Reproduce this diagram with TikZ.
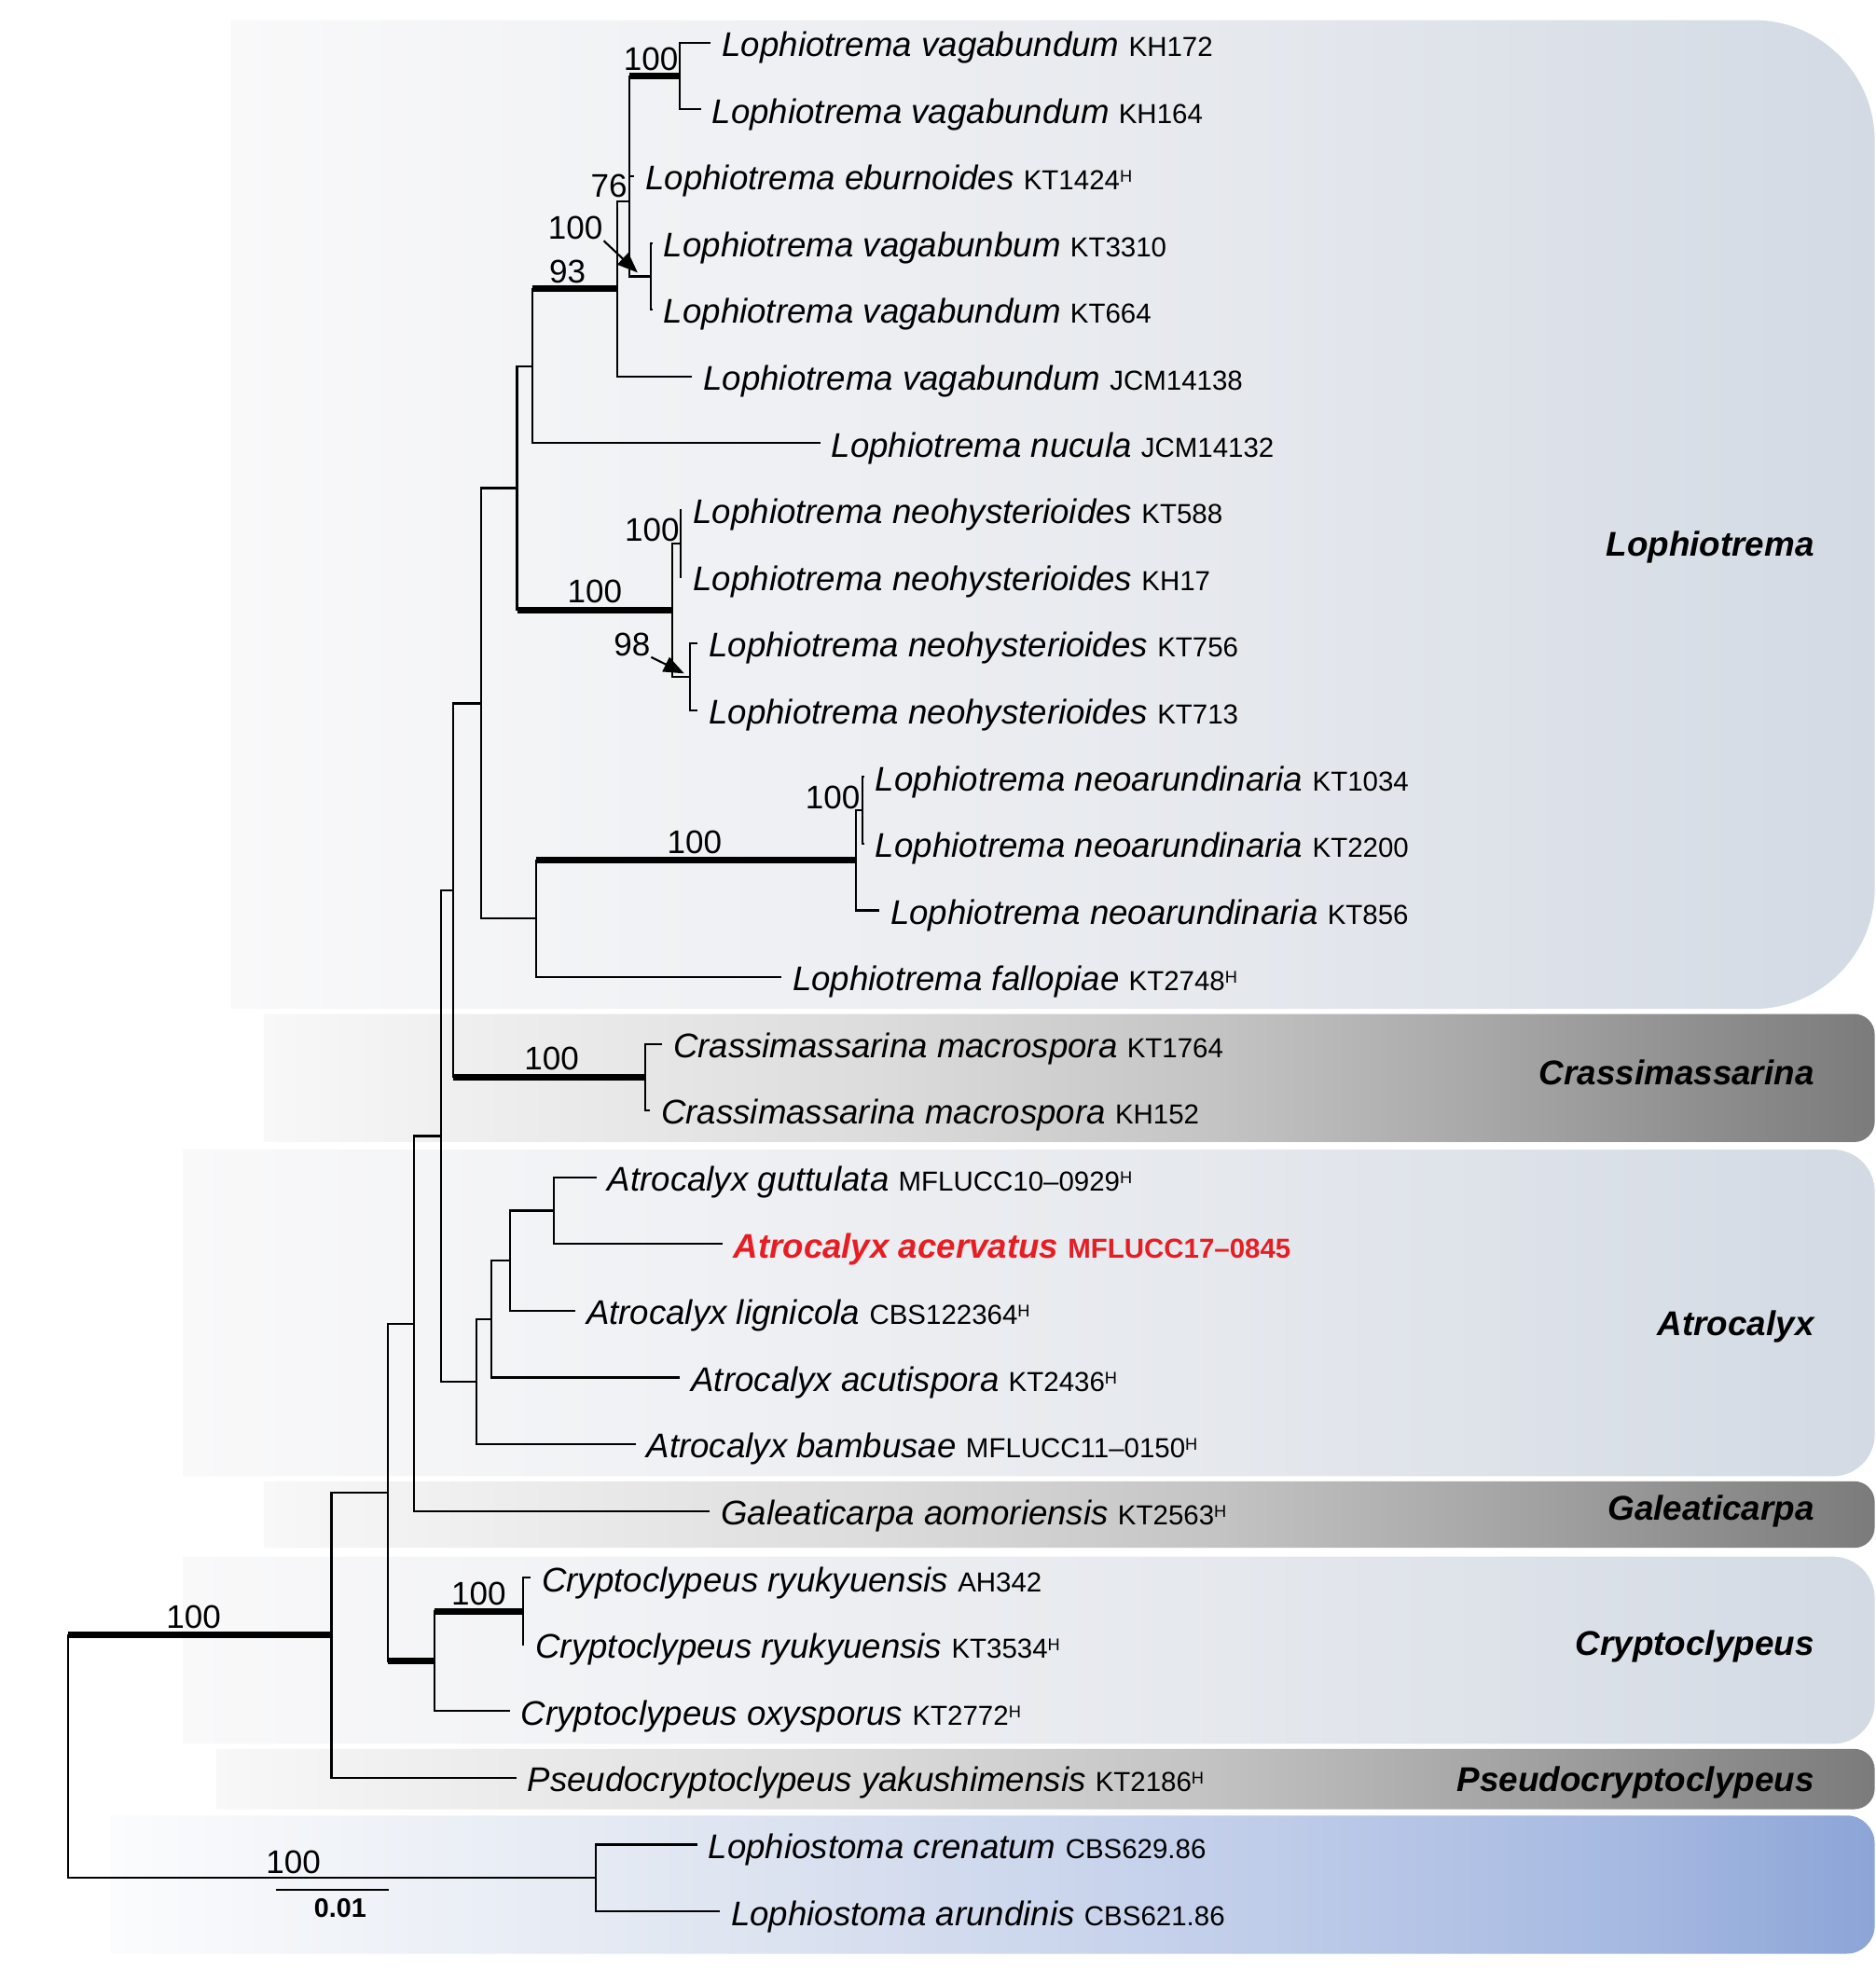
\documentclass[tikz,border=0pt]{standalone}
\usepackage{fontspec}
\setmainfont{Liberation Sans}
\usetikzlibrary{arrows.meta}

\definecolor{newsp}{RGB}{230,30,36}
\definecolor{pbA}{HTML}{F9F9FA}
\definecolor{pbB}{HTML}{E5E8ED}
\definecolor{pbC}{HTML}{D3DAE4}
\definecolor{gyA}{HTML}{F8F8F8}
\definecolor{gyB}{HTML}{DCDCDC}
\definecolor{gyC}{HTML}{C4C4C4}
\definecolor{gyD}{HTML}{A0A0A0}
\definecolor{gyE}{HTML}{7B7B7B}
\definecolor{blA}{HTML}{FBFCFD}
\definecolor{blB}{HTML}{E0E6F1}
\definecolor{blC}{HTML}{C0CDEA}
\definecolor{blD}{HTML}{A6B9E1}
\definecolor{blE}{HTML}{8CA5D7}

\pgfdeclarehorizontalshading{paleblue}{100bp}{color(0bp)=(pbA); color(25bp)=(pbA); color(56bp)=(pbB); color(75bp)=(pbC); color(100bp)=(pbC)}
\pgfdeclarehorizontalshading{greyband}{100bp}{color(0bp)=(gyA); color(25bp)=(gyA); color(44bp)=(gyB); color(54.5bp)=(gyC); color(65bp)=(gyD); color(75bp)=(gyE); color(100bp)=(gyE)}
\pgfdeclarehorizontalshading{blueband}{100bp}{color(0bp)=(blA); color(25bp)=(blA); color(41.8bp)=(blB); color(57.5bp)=(blC); color(68bp)=(blD); color(75bp)=(blE); color(100bp)=(blE)}

\newcommand{\strain}[1]{{\fontsize{8.4}{10}\selectfont\upshape #1}}
\newcommand{\holo}{\raisebox{2.3pt}{\fontsize{5.2}{6}\selectfont H}}

\begin{document}
\begin{tikzpicture}[x=0.0135cm, y=-0.0135cm, line width=0.6pt, line cap=rect,
  taxon/.style={anchor=west, inner xsep=0.1215cm, inner ysep=0pt, text height=10.84pt, text depth=2.4pt, font=\fontsize{10.45}{12}\selectfont\itshape},
  clade/.style={anchor=base east, inner sep=0pt, font=\fontsize{10.5}{12}\selectfont\bfseries\itshape},
  boot/.style={anchor=base, inner sep=0pt, font=\fontsize{10}{12}\selectfont},
  bar/.style={line width=2pt, line cap=butt}]
\useasboundingbox (0,0) rectangle (1493,1568);
\fill[white] (0,0) rectangle (1493,1568);

\shade[shading=paleblue] (184,16) [rounded corners=1.3cm] -- (1492,16) -- (1492,803) [sharp corners] -- (184,803) -- cycle;
\shade[shading=greyband] (210,807) [rounded corners=0.22cm] -- (1492,807) -- (1492,909) [sharp corners] -- (210,909) -- cycle;
\shade[shading=paleblue] (146,915) [rounded corners=0.45cm] -- (1492,915) -- (1492,1175) [sharp corners] -- (146,1175) -- cycle;
\shade[shading=greyband] (210,1179) [rounded corners=0.22cm] -- (1492,1179) -- (1492,1232) [sharp corners] -- (210,1232) -- cycle;
\shade[shading=paleblue] (146,1239) [rounded corners=0.45cm] -- (1492,1239) -- (1492,1388) [sharp corners] -- (146,1388) -- cycle;
\shade[shading=greyband] (172,1392) [rounded corners=0.22cm] -- (1492,1392) -- (1492,1440) [sharp corners] -- (172,1440) -- cycle;
\shade[shading=blueband] (88,1445) [rounded corners=0.3cm] -- (1492,1445) -- (1492,1555) [sharp corners] -- (88,1555) -- cycle;

\node[taxon] (t0) at (565,34) {Lophiotrema vagabundum \strain{KH172}};
\node[taxon] (t1) at (557,87.1) {Lophiotrema vagabundum \strain{KH164}};
\node[taxon] (t2) at (504,140.2) {Lophiotrema eburnoides \strain{KT1424\holo}};
\node[taxon] (t3) at (518.5,193.4) {Lophiotrema vagabunbum \strain{KT3310}};
\node[taxon] (t4) at (518.5,246.5) {Lophiotrema vagabundum \strain{KT664}};
\node[taxon] (t5) at (550,299.6) {Lophiotrema vagabundum \strain{JCM14138}};
\node[taxon] (t6) at (652,352.7) {Lophiotrema nucula \strain{JCM14132}};
\node[taxon] (t7) at (542,405.8) {Lophiotrema neohysterioides \strain{KT588}};
\node[taxon] (t8) at (542,459.0) {Lophiotrema neohysterioides \strain{KH17}};
\node[taxon] (t9) at (554.5,512.1) {Lophiotrema neohysterioides \strain{KT756}};
\node[taxon] (t10) at (554.5,565.2) {Lophiotrema neohysterioides \strain{KT713}};
\node[taxon] (t11) at (687,618.3) {Lophiotrema neoarundinaria \strain{KT1034}};
\node[taxon] (t12) at (687,671.4) {Lophiotrema neoarundinaria \strain{KT2200}};
\node[taxon] (t13) at (699,724.6) {Lophiotrema neoarundinaria \strain{KT856}};
\node[taxon] (t14) at (621,777.7) {Lophiotrema fallopiae \strain{KT2748\holo}};
\node[taxon] (t15) at (526,830.8) {Crassimassarina macrospora \strain{KT1764}};
\node[taxon] (t16) at (516.5,883.9) {Crassimassarina macrospora \strain{KH152}};
\node[taxon] (t17) at (474,937.0) {Atrocalyx guttulata \strain{MFLUCC10–0929\holo}};
\node[taxon, text=newsp, font=\fontsize{10.45}{12}\selectfont\bfseries\itshape] (t18) at (574,990.2) {Atrocalyx acervatus \strain{MFLUCC17–0845}};
\node[taxon] (t19) at (457,1043.3) {Atrocalyx lignicola \strain{CBS122364\holo}};
\node[taxon] (t20) at (540.5,1096.4) {Atrocalyx acutispora \strain{KT2436\holo}};
\node[taxon] (t21) at (505,1149.5) {Atrocalyx bambusae \strain{MFLUCC11–0150\holo}};
\node[taxon] (t22) at (564,1202.6) {Galeaticarpa aomoriensis \strain{KT2563\holo}};
\node[taxon] (t23) at (421.5,1255.8) {Cryptoclypeus ryukyuensis \strain{AH342}};
\node[taxon] (t24) at (416.5,1308.9) {Cryptoclypeus ryukyuensis \strain{KT3534\holo}};
\node[taxon] (t25) at (405,1362.0) {Cryptoclypeus oxysporus \strain{KT2772\holo}};
\node[taxon] (t26) at (410,1415.1) {Pseudocryptoclypeus yakushimensis \strain{KT2186\holo}};
\node[taxon] (t27) at (554,1468.2) {Lophiostoma crenatum \strain{CBS629.86}};
\node[taxon] (t28) at (572,1521.4) {Lophiostoma arundinis \strain{CBS621.86}};

\coordinate (k1) at (540.7,60.6);
\coordinate (l1) at (518,220);
\coordinate (j1) at (501,160);
\coordinate (i1) at (491,230);
\coordinate (h1) at (424,291.5);
\coordinate (n1) at (541.4,432.4);
\coordinate (n2) at (549,538.6);
\coordinate (n0) at (535,485.5);
\coordinate (g1) at (411.5,388.5);
\coordinate (a1) at (686.3,644.9);
\coordinate (a0) at (681.2,684.7);
\coordinate (f2) at (426.4,731.2);
\coordinate (f1) at (383,559.9);
\coordinate (cm) at (513.5,857.4);
\coordinate (e1) at (360.6,708.6);
\coordinate (x4) at (441,963.6);
\coordinate (x3) at (405.7,1003.5);
\coordinate (x2) at (391.2,1049.9);
\coordinate (x1) at (379.4,1099.7);
\coordinate (d1) at (351,904.2);
\coordinate (c1) at (329.5,1053.4);
\coordinate (y1) at (416.5,1282.4);
\coordinate (y0) at (345.5,1322.2);
\coordinate (b1) at (309,1187.8);
\coordinate (ia) at (263.8,1301.5);
\coordinate (ls) at (474,1494.8);
\coordinate (rt) at (54.3,1398);

\foreach \p/\a/\b in {k1/t0/t1, l1/t3/t4, j1/k1/l1, i1/j1/t5, h1/i1/t6, n1/t7/t8, n2/t9/t10, n0/n1/n2,
  g1/h1/n0, a1/t11/t12, a0/a1/t13, f2/a0/t14, f1/g1/f2, cm/t15/t16, e1/f1/cm, x4/t17/t18, x3/x4/t19,
  x2/x3/t20, x1/x2/t21, d1/e1/x1, c1/d1/t22, y1/t23/t24, y0/y1/t25, b1/c1/y0, ia/b1/t26, ls/t27/t28, rt/ia/ls}
  \draw (\p |- \a) -- (\p |- \b);

\foreach \p/\c in {k1/t0, k1/t1, j1/t2, j1/l1, l1/t3, l1/t4, i1/j1, i1/t5, h1/t6, n1/t7, n1/t8, n0/n1, n0/n2,
  n2/t9, n2/t10, g1/h1, a1/t11, a1/t12, a0/a1, a0/t13, f2/t14, f1/g1, f1/f2, cm/t15, cm/t16, e1/f1,
  x4/t17, x4/t18, x3/x4, x3/t19, x2/x3, x2/t20, x1/x2, x1/t21, d1/e1, d1/x1, c1/d1, c1/t22,
  y1/t23, y1/t24, y0/t25, b1/c1, ia/b1, ia/t26, ls/t27, ls/t28, rt/ls}
  \draw (\p |- \c) -- (\c);

\foreach \p/\c in {j1/k1, h1/i1, g1/n0, f2/a0, e1/cm, y0/y1, b1/y0, rt/ia}
  \draw[bar] (\p |- \c) -- (\c);

\node[boot] (bk1) at (518,55.7) {100};
\node[boot] (bj1) at (484.7,157) {76};
\node[boot] (bl1) at (458,190.6) {100};
\node[boot] (bi1) at (451.6,225) {93};
\node[boot] (bn0) at (473.3,479.7) {100};
\node[boot] (bn1) at (519,430.7) {100};
\node[boot] (bn2) at (503,522) {98};
\node[boot] (ba1) at (662.7,644) {100};
\node[boot] (ba0) at (552.7,679.7) {100};
\node[boot] (bcm) at (439,851.5) {100};
\node[boot] (by1) at (381,1277.8) {100};
\node[boot] (bia) at (154,1296) {100};
\node[boot] (bls) at (233.5,1491.5) {100};

\coordinate (l1tip) at (507.5,217);
\coordinate (n2tip) at (544.5,536);
\draw[line cap=butt, -{Triangle[length=0.22cm, width=0.17cm]}] (bl1.south east) -- (l1tip);
\draw[line cap=butt, -{Triangle[length=0.22cm, width=0.17cm]}] (bn2.south east) -- (n2tip);

\node[clade] (cl1) at (1444.5,442.7) {Lophiotrema};
\node[clade] (cl2) at (1444.5,863.3) {Crassimassarina};
\node[clade] (cl3) at (1444.5,1063.1) {Atrocalyx};
\node[clade] (cl4) at (1444.5,1210.3) {Galeaticarpa};
\node[clade] (cl5) at (1444.5,1317.2) {Cryptoclypeus};
\node[clade] (cl6) at (1444.5,1426) {Pseudocryptoclypeus};

\coordinate (sb0) at (219.6,1504.2);
\coordinate (sb1) at (309.7,1504.2);
\draw[line cap=butt] (sb0) -- (sb1);
\node[anchor=base, inner sep=0pt, font=\fontsize{8.2}{10}\selectfont\bfseries] (sbl) at (270.8,1525.7) {0.01};
\end{tikzpicture}
\end{document}
